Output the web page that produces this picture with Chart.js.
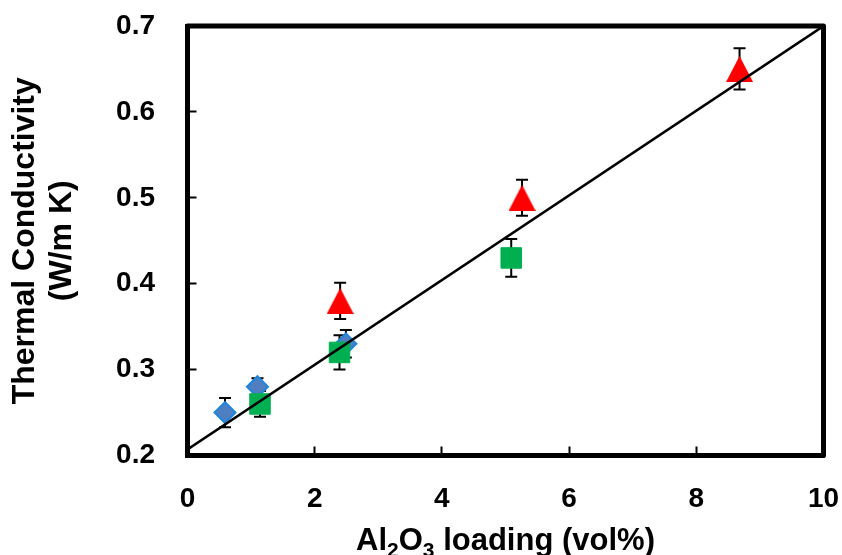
<!DOCTYPE html>
<html>
<head>
<meta charset="utf-8">
<script src="https://cdn.jsdelivr.net/npm/chart.js@4"></script>
<style>
  body { margin: 0; background: #ffffff; }
  #wrap { width: 842px; height: 555px; }
</style>
</head>
<body>
<div id="wrap"><canvas id="conductivityChart" width="842" height="555"></canvas></div>
<script>
// Data
const blueX = [0.59, 1.10, 2.49];
const blueY = [0.25, 0.28, 0.33];
const blueErr = [0.017, 0.010, 0.016];

const greenX = [1.14, 2.39, 5.09];
const greenY = [0.26, 0.32, 0.43];
const greenErr = [0.015, 0.020, 0.022];

const redX = [2.40, 5.26, 8.68];
const redY = [0.38, 0.50, 0.65];
const redErr = [0.021, 0.021, 0.024];

const fitX = [0, 10];
const fitY = [0.207, 0.70];

const xTicks = [0, 2, 4, 6, 8, 10];
const yTicks = [0.2, 0.3, 0.4, 0.5, 0.6, 0.7];

// x axis title pieces: [text, subscript?]
const xTitleParts = [['Al', false], ['2', true], ['O', false], ['3', true], [' loading (vol%)', false]];

const toPoints = (xs, ys) => xs.map((x, i) => ({ x: x, y: ys[i] }));

// triangle marker centred on its bounding box (like the spreadsheet marker)
function triangleMarker(w, h, color) {
    const c = document.createElement('canvas');
    c.width = w;
    c.height = h;
    const g = c.getContext('2d');
    g.fillStyle = color;
    g.beginPath();
    g.moveTo(w / 2, 0);
    g.lineTo(w, h);
    g.lineTo(0, h);
    g.closePath();
    g.fill();
    return c;
}

const fontFamily = '"Liberation Sans", Arial, sans-serif';

// vertical error bars, drawn under the markers
const errorBars = {
    id: 'errorBars',
    beforeDatasetsDraw(chart) {
        const ctx = chart.ctx;
        const xs = chart.scales.x;
        const ys = chart.scales.y;
        ctx.save();
        ctx.strokeStyle = '#000000';
        ctx.lineWidth = 2;
        chart.data.datasets.forEach(ds => {
            if (!ds.errors) return;
            ds.data.forEach((p, i) => {
                const px = xs.getPixelForValue(p.x);
                const top = ys.getPixelForValue(p.y + ds.errors[i]);
                const bot = ys.getPixelForValue(p.y - ds.errors[i]);
                ctx.beginPath();
                ctx.moveTo(px, top);
                ctx.lineTo(px, bot);
                ctx.moveTo(px - 6, top);
                ctx.lineTo(px + 6, top);
                ctx.moveTo(px - 6, bot);
                ctx.lineTo(px + 6, bot);
                ctx.stroke();
            });
        });
        ctx.restore();
    }
};

// box round the plot area + x title with real subscripts
const frame = {
    id: 'frame',
    afterDraw(chart) {
        const a = chart.chartArea;
        const ctx = chart.ctx;
        ctx.save();
        ctx.strokeStyle = '#000000';
        ctx.lineWidth = 5;
        ctx.lineJoin = 'round';
        ctx.strokeRect(a.left, a.top, a.right - a.left, a.bottom - a.top);

        const big = 'bold 31px ' + fontFamily;
        const small = 'bold 21px ' + fontFamily;
        let total = 0;
        xTitleParts.forEach(([t, sub]) => {
            ctx.font = sub ? small : big;
            total += ctx.measureText(t).width;
        });
        let x = (a.left + a.right) / 2 - total / 2;
        const base = 550;
        ctx.fillStyle = '#000000';
        ctx.textBaseline = 'alphabetic';
        ctx.textAlign = 'left';
        xTitleParts.forEach(([t, sub]) => {
            ctx.font = sub ? small : big;
            ctx.fillText(t, x, sub ? base + 7 : base);
            x += ctx.measureText(t).width;
        });
        ctx.restore();
    }
};

const ctx = document.getElementById('conductivityChart').getContext('2d');
new Chart(ctx, {
    type: 'scatter',
    data: {
        datasets: [
            {
                type: 'line',
                label: 'Fit',
                data: toPoints(fitX, fitY),
                borderColor: '#000000',
                borderWidth: 2.5,
                pointRadius: 0,
                fill: false,
                order: 0
            },
            {
                label: 'Series 1',
                data: toPoints(blueX, blueY),
                errors: blueErr,
                pointStyle: 'rectRot',
                pointRadius: 10.5,
                backgroundColor: '#4f7fc0',
                borderColor: '#1f86dc',
                borderWidth: 2,
                order: 3
            },
            {
                label: 'Series 2',
                data: toPoints(greenX, greenY),
                errors: greenErr,
                pointStyle: 'rect',
                pointRadius: 14.5,
                backgroundColor: '#00b050',
                borderColor: '#00b050',
                borderWidth: 1,
                order: 2
            },
            {
                label: 'Series 3',
                data: toPoints(redX, redY),
                errors: redErr,
                pointStyle: triangleMarker(27, 26, '#ff0000'),
                pointRadius: 14,
                backgroundColor: '#ff0000',
                order: 1
            }
        ]
    },
    options: {
        responsive: false,
        animation: false,
        layout: {
            padding: { top: 26, right: 18.5, bottom: 0, left: 0 }
        },
        scales: {
            x: {
                type: 'linear',
                min: 0,
                max: 10,
                afterFit: s => {
                    s.height = 99.5;
                    s.paddingLeft = 0;
                    s.paddingRight = 0;
                },
                afterBuildTicks: s => { s.ticks = xTicks.map(v => ({ value: v })); },
                grid: {
                    drawOnChartArea: false,
                    drawTicks: true,
                    tickLength: -9,
                    tickWidth: 2,
                    tickColor: '#000000'
                },
                border: { display: true, color: '#000000', width: 5 },
                ticks: {
                    padding: 36,
                    color: '#000000',
                    font: { family: fontFamily, size: 28, weight: 'bold' }
                },
                title: { display: false }
            },
            y: {
                type: 'linear',
                min: 0.2,
                max: 0.7,
                afterFit: s => {
                    s.width = 187.5;
                    s.paddingTop = 0;
                    s.paddingBottom = 0;
                },
                afterBuildTicks: s => { s.ticks = yTicks.map(v => ({ value: v })); },
                grid: {
                    drawOnChartArea: false,
                    drawTicks: true,
                    tickLength: -9,
                    tickWidth: 2,
                    tickColor: '#000000'
                },
                border: { display: true, color: '#000000', width: 5 },
                ticks: {
                    padding: 41.5,
                    color: '#000000',
                    callback: v => v.toFixed(1),
                    font: { family: fontFamily, size: 28, weight: 'bold' }
                },
                title: {
                    display: true,
                    text: ['Thermal Conductivity', '(W/m K)'],
                    color: '#000000',
                    padding: { top: 7, bottom: 0 },
                    font: { family: fontFamily, size: 32, weight: 'bold', lineHeight: 1.15 }
                }
            }
        },
        plugins: {
            legend: { display: false },
            tooltip: { enabled: false }
        }
    },
    plugins: [errorBars, frame]
});
</script>
</body>
</html>
